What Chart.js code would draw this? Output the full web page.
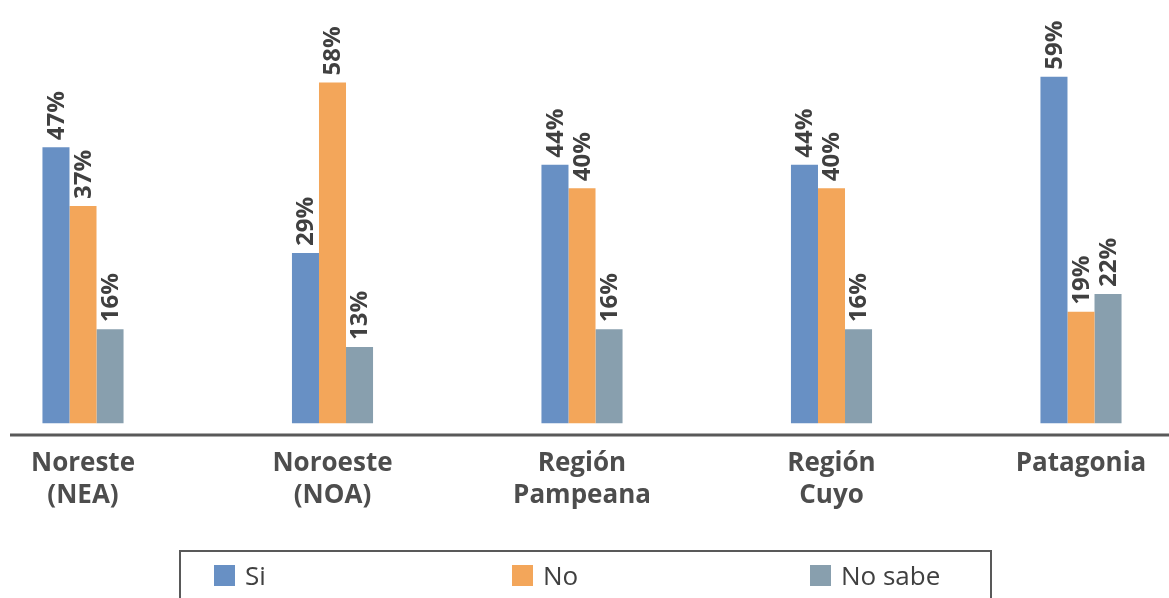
<!DOCTYPE html>
<html>
<head>
<meta charset="utf-8">
<script src="https://cdn.jsdelivr.net/npm/chart.js@4"></script>
<style>
  body { margin: 0; background: #fff; overflow: hidden; }
  .wrap { position: relative; width: 1169px; height: 598px; }
  #chart { position: absolute; left: 0; top: 0; }
  .legend {
    position: absolute; left: 179px; top: 550px; width: 813px; height: 70px;
    border: 2px solid #595959; box-sizing: border-box;
    display: grid; grid-template-columns: 298px 298px 1fr;
    padding-left: 33px; padding-top: 11px;
    font-family: "Open Sans", sans-serif; font-size: 26px; color: #404040;
  }
  .legend-item { display: flex; align-items: center; height: 24px; }
  .legend-box { width: 21px; height: 21px; margin-right: 10px; }
</style>
</head>
<body>
<div class="wrap">
  <canvas id="chart" width="1169" height="598"></canvas>
  <div class="legend" id="legend"></div>
</div>
<script>
const regions = [["Noreste", "(NEA)"], ["Noroeste", "(NOA)"], ["Región", "Pampeana"], ["Región", "Cuyo"], "Patagonia"];
const seriesNames = ["Si", "No", "No sabe"];
const si = [47, 29, 44, 44, 59];
const no = [37, 58, 40, 40, 19];
const noSabe = [16, 13, 16, 16, 22];
const colors = ["#6890c4", "#f3a65a", "#889fae"];

const ctx = document.getElementById("chart");

// Rotated percentage labels above each bar
const valueLabels = {
  id: "valueLabels",
  afterDatasetsDraw(chart) {
    const c = chart.ctx;
    c.save();
    c.font = "bold 24px 'Open Sans', sans-serif";
    c.fillStyle = "#404040";
    c.textAlign = "left";
    c.textBaseline = "middle";
    chart.data.datasets.forEach((ds, i) => {
      chart.getDatasetMeta(i).data.forEach((bar, j) => {
        c.save();
        c.translate(bar.x, bar.y - 7);
        c.rotate(-Math.PI / 2);
        c.fillText(ds.data[j] + "%", 0, 1);
        c.restore();
      });
    });
    c.restore();
  }
};

// Horizontal axis line running across the whole width
const baseLine = {
  id: "baseLine",
  afterDraw(chart) {
    const c = chart.ctx;
    const y = chart.chartArea.bottom;
    c.save();
    c.strokeStyle = "#595959";
    c.lineWidth = 3;
    c.beginPath();
    c.moveTo(10, y);
    c.lineTo(chart.width, y);
    c.stroke();
    c.restore();
  }
};

const datasets = [si, no, noSabe].map((values, i) => ({
  label: seriesNames[i],
  data: values,
  backgroundColor: colors[i],
  categoryPercentage: 0.325,
  barPercentage: 1,
  clip: false
}));

new Chart(ctx, {
  type: "bar",
  data: { labels: regions, datasets: datasets },
  options: {
    responsive: false,
    animation: false,
    layout: { padding: { left: 83, right: 88, top: 12, bottom: 74 } },
    plugins: { legend: { display: false }, tooltip: { enabled: false } },
    scales: {
      x: {
        offset: false,
        grid: { display: false, drawTicks: false },
        border: { display: false },
        ticks: {
          color: "#4d4d4d",
          padding: 12,
          maxRotation: 0,
          autoSkip: false,
          font: { family: "'Open Sans', sans-serif", size: 26, weight: "bold", lineHeight: 1.25 }
        }
      },
      y: {
        display: false,
        min: -2,
        max: 70
      }
    }
  },
  plugins: [valueLabels, baseLine]
});

// Boxed legend below the chart
const legend = document.getElementById("legend");
seriesNames.forEach((name, i) => {
  const item = document.createElement("div");
  item.className = "legend-item";
  item.innerHTML = '<span class="legend-box" style="background:' + colors[i] + '"></span>' + name;
  legend.appendChild(item);
});
</script>
</body>
</html>
